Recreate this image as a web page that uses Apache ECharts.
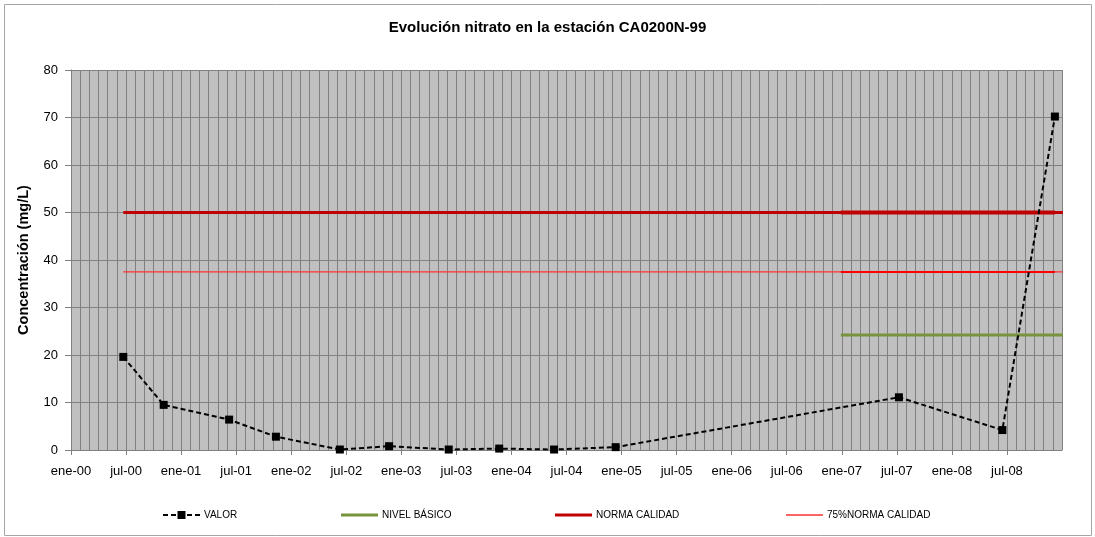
<!DOCTYPE html>
<html>
<head>
<meta charset="utf-8">
<script src="https://cdn.jsdelivr.net/npm/echarts@6/dist/echarts.min.js"></script>
<style>
html,body{margin:0;padding:0;background:#fff;}
#chart{width:1095px;height:537px;}
</style>
</head>
<body>
<div id="chart"></div>
<script>
// ---- data ----
var sampleDates = ['2000-06-22','2000-11-04','2001-06-08','2001-11-11','2002-06-10','2002-11-21',
  '2003-06-06','2003-11-21','2004-05-21','2004-12-12','2007-07-08','2008-06-16','2008-12-08'];
var valorValues = [19.6, 9.5, 6.4, 2.8, 0.1, 0.8, 0.1, 0.3, 0.1, 0.6, 11.1, 4.2, 70.2];
var nivelBasico = 24.2;
var normaCalidad = 50;
var norma75 = 37.5;
var nivelStart = '2006-12-29';
var axisStart = '2000-01-01';
var axisEnd = '2009-01-01';
var tickLabels = ['ene-00','jul-00','ene-01','jul-01','ene-02','jul-02','ene-03','jul-03','ene-04','jul-04',
  'ene-05','jul-05','ene-06','jul-06','ene-07','jul-07','ene-08','jul-08','ene-09'];
var yTicks = [0, 10, 20, 30, 40, 50, 60, 70, 80];

// months since Jan 2000 (fractional)
function toMonths(s) {
  var p = s.split('-').map(Number);
  var dim = new Date(p[0], p[1], 0).getDate();
  return (p[0] - 2000) * 12 + (p[1] - 1) + (p[2] - 1) / dim;
}
var xMin = toMonths(axisStart), xMax = toMonths(axisEnd);
var valorData = sampleDates.map(function (d, i) { return [toMonths(d), valorValues[i]]; });
var firstX = toMonths(sampleDates[0]);
var lastX = toMonths(sampleDates[sampleDates.length - 1]);
var nivelX = toMonths(nivelStart);

var font = 'Liberation Sans, Arial, sans-serif';
var chart = echarts.init(document.getElementById('chart'), null, {renderer: 'canvas'});

function legendAt(left, name, icon, h) {
  var item = icon ? {name: name, icon: icon} : {name: name};
  return {
    data: [item], left: left, top: 509, itemWidth: 37, itemHeight: h || 10, itemGap: 0,
    textStyle: {fontFamily: font, fontSize: 10, color: '#000', padding: [0, 0, 0, -1], lineHeight: 12},
    padding: 0
  };
}

chart.setOption({
  animation: false,
  backgroundColor: '#fff',
  title: {
    text: 'Evolución nitrato en la estación CA0200N-99',
    left: 'center', top: 15,
    textStyle: {fontFamily: font, fontSize: 15, fontWeight: 'bold', color: '#000'}
  },
  graphic: [{
    type: 'rect', shape: {x: 4.5, y: 4.5, width: 1087, height: 531},
    style: {fill: 'none', stroke: '#a6a6a6', lineWidth: 1}, z: -10, silent: true
  }],
  legend: [
    legendAt(162, 'VALOR'),
    legendAt(341, 'NIVEL BÁSICO', 'rect', 3),
    legendAt(555, 'NORMA CALIDAD', 'rect', 3),
    legendAt(786, '75%NORMA CALIDAD', 'rect', 1.3)
  ],
  grid: {
    left: 71, right: 33, top: 70, bottom: 87,
    show: true, backgroundColor: '#C0C0C0', borderWidth: 0
  },
  xAxis: {
    type: 'value', min: xMin, max: xMax, interval: 6,
    axisLine: {show: true, lineStyle: {color: '#808080', width: 1}},
    axisTick: {show: true, length: 5, lineStyle: {color: '#808080'}},
    minorTick: {show: false, splitNumber: 6},
    minorSplitLine: {show: true, lineStyle: {color: '#808080', width: 1}},
    splitLine: {show: true, lineStyle: {color: '#808080', width: 1}},
    axisLabel: {
      fontFamily: font, fontSize: 13, color: '#000', margin: 15, showMaxLabel: false,
      formatter: function (v) { return tickLabels[Math.round(v / 6)] || ''; }
    }
  },
  yAxis: {
    type: 'value', min: yTicks[0], max: yTicks[yTicks.length - 1], interval: 10,
    name: 'Concentración (mg/L)', nameLocation: 'middle', nameGap: 40,
    nameTextStyle: {fontFamily: font, fontSize: 14.5, fontWeight: 'bold', color: '#000'},
    axisLine: {show: true, lineStyle: {color: '#808080', width: 1}},
    axisTick: {show: true, length: 6, lineStyle: {color: '#808080'}},
    splitLine: {show: true, lineStyle: {color: '#808080', width: 1}},
    axisLabel: {fontFamily: font, fontSize: 13, color: '#000', margin: 13}
  },
  series: [
    {
      name: 'VALOR', type: 'line', data: valorData, z: 10,
      symbol: 'rect', symbolSize: 8,
      itemStyle: {color: '#000'},
      lineStyle: {color: '#000', width: 2, type: [5, 3]}
    },
    {
      name: 'NIVEL BÁSICO', type: 'line', symbol: 'none', z: 3,
      data: [[nivelX, nivelBasico], [xMax + 0.1, nivelBasico]],
      itemStyle: {color: '#77933C'},
      lineStyle: {color: '#77933C', width: 3}
    },
    {
      name: 'NORMA CALIDAD', type: 'line', symbol: 'none', z: 3,
      data: [[firstX, normaCalidad], [xMax + 0.1, normaCalidad]],
      itemStyle: {color: '#C00000'},
      lineStyle: {color: '#C00000', width: 3}
    },
    {
      name: 'NORMA CALIDAD', type: 'line', symbol: 'none', z: 3,
      data: [[nivelX, normaCalidad], [lastX, normaCalidad]],
      itemStyle: {color: '#C00000'},
      lineStyle: {color: '#C00000', width: 4}
    },
    {
      name: '75%NORMA CALIDAD', type: 'line', symbol: 'none', z: 3,
      data: [[firstX, norma75], [xMax + 0.1, norma75]],
      itemStyle: {color: '#FF3030'},
      lineStyle: {color: '#FF3030', width: 1.3}
    },
    {
      name: '75%NORMA CALIDAD', type: 'line', symbol: 'none', z: 3,
      data: [[nivelX, norma75], [lastX, norma75]],
      itemStyle: {color: '#FF0000'},
      lineStyle: {color: '#FF0000', width: 2}
    }
  ]
});
</script>
</body>
</html>
